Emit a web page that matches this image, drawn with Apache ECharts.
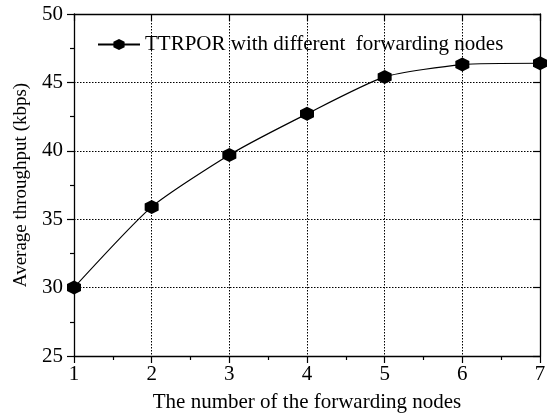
<!DOCTYPE html>
<html>
<head>
<meta charset="utf-8">
<script src="https://cdn.jsdelivr.net/npm/echarts@6.0.0/dist/echarts.min.js"></script>
<style>
  html, body { margin: 0; padding: 0; background: #fff; }
  #main { width: 550px; height: 420px; }
</style>
</head>
<body>
<div id="main"></div>
<script>
// data
const nodes = [1, 2, 3, 4, 5, 6, 7]
const throughput = [30.0, 35.9, 39.7, 42.7, 45.4, 46.3, 46.4]
const seriesName = 'TTRPOR with different  forwarding nodes'

const FONT = '"Liberation Serif", "DejaVu Serif", serif'
const SIZE = 21
const hexagon = 'path://M0,-10 L8.66,-5 L8.66,5 L0,10 L-8.66,5 L-8.66,-5 Z'

const chart = echarts.init(document.getElementById('main'))

const axisLine = { show: true, lineStyle: { color: '#000', width: 1.3 } }
const tickOut = { show: true, inside: false, length: 7, lineStyle: { color: '#000', width: 1.2 } }
const tickIn = { show: true, inside: true, length: 7, lineStyle: { color: '#000', width: 1.2 } }
const minorOut = { show: true, splitNumber: 2, length: 4, lineStyle: { color: '#000', width: 1.2 } }
const dotted = { show: true, lineStyle: { color: '#000', type: [1.5, 1.5], width: 1 } }
const text = { fontFamily: FONT, fontSize: SIZE, color: '#000' }

chart.setOption({
  animation: false,
  backgroundColor: '#fff',
  grid: { left: 74, right: 10, top: 14, bottom: 64, containLabel: false, outerBoundsMode: 'none' },
  legend: {
    left: 92, top: 29,
    itemWidth: 42, itemHeight: 14,
    textStyle: text,
    data: [seriesName]
  },
  xAxis: [
    {
      type: 'value', min: 1, max: 7, interval: 1,
      axisLine, axisTick: tickOut, minorTick: minorOut,
      splitLine: dotted,
      axisLabel: Object.assign({ margin: 8 }, text),
      name: 'The number of the forwarding nodes',
      nameLocation: 'middle', nameGap: 36,
      nameTextStyle: text
    },
    {
      type: 'value', min: 1, max: 7, interval: 1, position: 'top',
      axisLine, axisTick: tickIn, minorTick: { show: false },
      splitLine: { show: false }, axisLabel: { show: false }
    }
  ],
  yAxis: [
    {
      type: 'value', min: 25, max: 50, interval: 5,
      axisLine, axisTick: tickOut, minorTick: minorOut,
      splitLine: dotted,
      axisLabel: Object.assign({ margin: 11 }, text),
      name: 'Average throughput (kbps)',
      nameLocation: 'middle', nameGap: 43,
      nameTextStyle: Object.assign({}, text, { fontSize: 19 })
    },
    {
      type: 'value', min: 25, max: 50, interval: 5, position: 'right',
      axisLine, axisTick: tickIn, minorTick: { show: false },
      splitLine: { show: false }, axisLabel: { show: false }
    }
  ],
  series: [
    {
      name: seriesName,
      type: 'line',
      smooth: 0.2,
      data: nodes.map((n, i) => [n, throughput[i]]),
      symbol: hexagon,
      symbolSize: 14,
      lineStyle: { color: '#000', width: 1.2 },
      itemStyle: { color: '#000' }
    }
  ]
})
</script>
</body>
</html>
